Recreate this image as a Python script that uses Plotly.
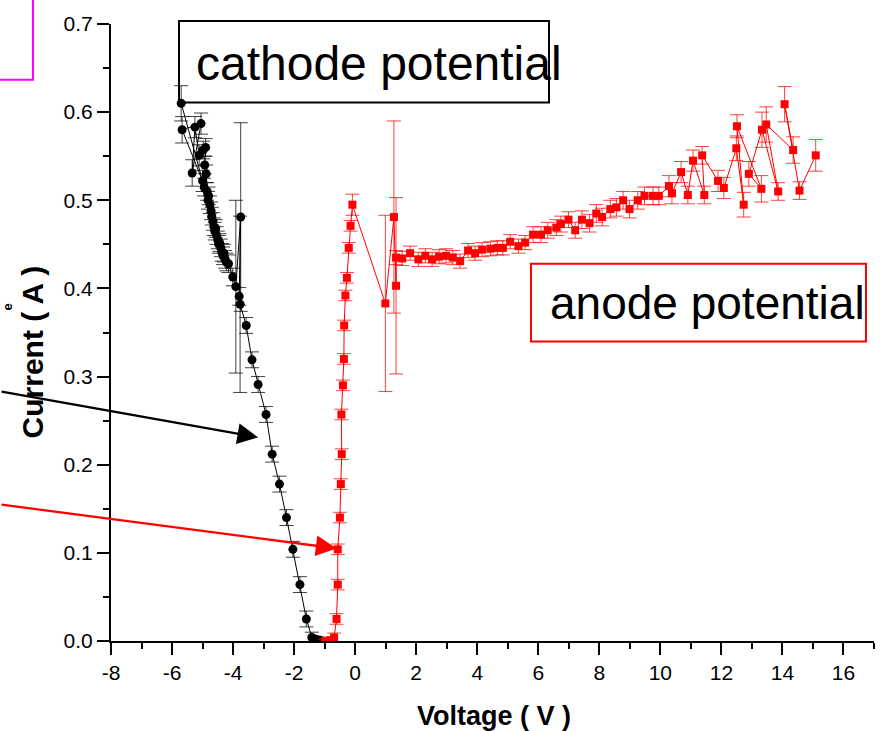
import plotly.graph_objects as go

# ---- data ----
cath_x = [-5.70, -5.00, -5.67, -5.05, -5.34, -5.25, -5.11, -4.98, -4.90, -4.93, -4.95, -4.88,
          -4.85, -4.82, -4.80, -4.76, -4.72, -4.70, -4.66, -4.63, -4.60, -4.57, -4.54, -4.50,
          -4.47, -4.44, -4.40, -4.37, -4.33, -4.30, -4.26, -4.22, -4.15, -4.01, -3.91, -3.75,
          -3.80, -3.77, -3.57, -3.38, -3.18, -2.92, -2.72, -2.48, -2.25, -2.04, -1.81, -1.60,
          -1.42, -1.30, -1.18, -1.05]
cath_y = [0.610, 0.522, 0.580, 0.587, 0.531, 0.583, 0.551, 0.557, 0.560, 0.540, 0.515, 0.530,
          0.510, 0.500, 0.505, 0.495, 0.488, 0.482, 0.476, 0.470, 0.465, 0.468, 0.460, 0.455,
          0.450, 0.452, 0.446, 0.441, 0.437, 0.440, 0.433, 0.430, 0.428, 0.413, 0.402, 0.481,
          0.391, 0.382, 0.358, 0.319, 0.291, 0.257, 0.212, 0.178, 0.140, 0.104, 0.064, 0.025,
          0.004, 0.002, 0.001, 0.000]
cath_err = [0.020, 0.012, 0.015, 0.012, 0.015, 0.012, 0.012, 0.010, 0.010, 0.010, 0.010, 0.010,
            0.010, 0.010, 0.010, 0.010, 0.010, 0.010, 0.010, 0.010, 0.010, 0.010, 0.010, 0.010,
            0.010, 0.010, 0.010, 0.010, 0.010, 0.010, 0.010, 0.010, 0.010, 0.010, 0.098, 0.107,
            0.010, 0.100, 0.009, 0.009, 0.009, 0.009, 0.009, 0.009, 0.009, 0.009, 0.009, 0.009,
            0.006, 0.003, 0.002, 0.001]

anode_x = [-0.98, -0.82, -0.69, -0.61, -0.57, -0.57, -0.50, -0.47, -0.44, -0.45, -0.40, -0.37,
           -0.36, -0.32, -0.27, -0.21, -0.15, -0.09, 0.99, 1.27, 1.34, 1.34, 1.54, 1.80,
           2.07, 2.30, 2.52, 2.75, 2.98, 3.20, 3.44, 3.70, 3.93, 4.16, 4.43, 4.66,
           4.84, 5.08, 5.35, 5.57, 5.83, 6.09, 6.31, 6.59, 6.74, 6.99, 7.21, 7.43,
           7.68, 7.90, 8.09, 8.36, 8.56, 8.78, 8.99, 9.26, 9.48, 9.76, 9.95, 10.28,
           10.38, 10.68, 10.90, 11.07, 11.44, 11.37, 11.89, 12.08, 12.49, 12.73, 12.51, 13.31,
           12.90, 13.33, 13.86, 13.47, 14.35, 14.07, 14.56, 15.09]
anode_y = [0.000, 0.001, 0.004, 0.025, 0.064, 0.104, 0.140, 0.178, 0.212, 0.257, 0.290, 0.320,
           0.358, 0.392, 0.412, 0.446, 0.471, 0.495, 0.383, 0.481, 0.403, 0.435, 0.434, 0.440,
           0.433, 0.437, 0.433, 0.436, 0.437, 0.435, 0.431, 0.443, 0.440, 0.444, 0.445, 0.446,
           0.446, 0.453, 0.448, 0.452, 0.461, 0.461, 0.466, 0.469, 0.473, 0.478, 0.466, 0.478,
           0.474, 0.485, 0.481, 0.490, 0.492, 0.500, 0.490, 0.500, 0.505, 0.505, 0.505, 0.516,
           0.508, 0.532, 0.506, 0.545, 0.506, 0.551, 0.522, 0.514, 0.559, 0.495, 0.584, 0.513,
           0.530, 0.580, 0.510, 0.586, 0.557, 0.609, 0.511, 0.551]
anode_err = [0.002, 0.003, 0.005, 0.006, 0.006, 0.006, 0.006, 0.006, 0.006, 0.006, 0.006, 0.006,
             0.006, 0.006, 0.006, 0.006, 0.006, 0.012, 0.100, 0.109, 0.100, 0.008, 0.008, 0.008,
             0.008, 0.008, 0.008, 0.008, 0.008, 0.008, 0.008, 0.008, 0.008, 0.008, 0.008, 0.008,
             0.008, 0.008, 0.008, 0.008, 0.009, 0.009, 0.009, 0.009, 0.009, 0.009, 0.009, 0.010,
             0.010, 0.010, 0.010, 0.010, 0.010, 0.010, 0.010, 0.010, 0.010, 0.010, 0.010, 0.012,
             0.012, 0.012, 0.010, 0.012, 0.010, 0.010, 0.012, 0.012, 0.014, 0.014, 0.013, 0.015,
             0.014, 0.020, 0.010, 0.020, 0.015, 0.020, 0.010, 0.018]

x_ticks = [-8, -6, -4, -2, 0, 2, 4, 6, 8, 10, 12, 14, 16]
y_ticks = [0.0, 0.1, 0.2, 0.3, 0.4, 0.5, 0.6, 0.7]

FONT = "Arial, Liberation Sans, sans-serif"

# plot area in pixels (for placing layout decorations)
L, R, T, B = 111, 874, 21, 641
W, H = 886, 731


def px(xp):
    return (xp - L) / (R - L)


def py(yp):
    return (B - yp) / (B - T)


fig = go.Figure()
fig.add_trace(go.Scatter(
    x=cath_x, y=cath_y, mode="lines+markers",
    line=dict(color="black", width=1),
    marker=dict(symbol="circle", size=9, color="black"),
    error_y=dict(type="data", array=cath_err, color="rgba(0,0,0,0.75)", thickness=1, width=7),
    showlegend=False))
fig.add_trace(go.Scatter(
    x=anode_x, y=anode_y, mode="lines+markers",
    line=dict(color="#ff0000", width=1),
    marker=dict(symbol="square", size=8, color="#ff0000"),
    error_y=dict(type="data", array=anode_err, color="rgba(255,0,0,0.75)", thickness=1, width=7),
    showlegend=False))

fig.update_xaxes(
    range=[-8, 17], tickmode="array", tickvals=x_ticks, ticktext=[str(v) for v in x_ticks],
    showline=True, linecolor="black", linewidth=2, ticks="outside", ticklen=12, tickwidth=2,
    tickcolor="black", showgrid=False, zeroline=False,
    minor=dict(dtick=1, tick0=-8, ticks="outside", ticklen=6, tickwidth=2, tickcolor="black", showgrid=False),
    tickfont=dict(family=FONT, size=21, color="black"))
fig.update_yaxes(
    range=[0, 0.7], tickmode="array", tickvals=y_ticks, ticktext=[f"{v:.1f}" for v in y_ticks],
    showline=True, linecolor="black", linewidth=2, ticks="outside", ticklen=12, tickwidth=2,
    tickcolor="black", showgrid=False, zeroline=False,
    minor=dict(dtick=0.05, tick0=0, ticks="outside", ticklen=6, tickwidth=2, tickcolor="black", showgrid=False),
    tickfont=dict(family=FONT, size=21, color="black"))

shapes = [
    dict(type="rect", xref="paper", yref="paper", x0=px(179), x1=px(549), y0=py(100), y1=py(18),
         line=dict(color="black", width=2), fillcolor="rgba(0,0,0,0)"),
    dict(type="rect", xref="paper", yref="paper", x0=px(531), x1=px(866), y0=py(340), y1=py(262),
         line=dict(color="#ff0000", width=2), fillcolor="rgba(0,0,0,0)"),
    dict(type="rect", xref="paper", yref="paper", x0=px(-20), x1=px(33), y0=py(77), y1=py(-20),
         line=dict(color="#ff00ff", width=2), fillcolor="rgba(0,0,0,0)"),
]

annotations = [
    dict(text="cathode potential", xref="paper", yref="paper", x=px(194), y=py(61),
         xanchor="left", yanchor="middle", showarrow=False,
         font=dict(family=FONT, size=48, color="black")),
    dict(text="anode potential", xref="paper", yref="paper", x=px(548), y=py(301),
         xanchor="left", yanchor="middle", showarrow=False,
         font=dict(family=FONT, size=46, color="black")),
    dict(text="<b>Voltage ( V )</b>", xref="paper", yref="paper", x=px(494), y=py(716),
         xanchor="center", yanchor="middle", showarrow=False,
         font=dict(family=FONT, size=27, color="black")),
    dict(text="<b>Current ( A )</b>", xref="paper", yref="paper", x=px(32), y=py(351),
         xanchor="center", yanchor="middle", showarrow=False, textangle=-90,
         font=dict(family=FONT, size=30, color="black")),
    dict(text="<b>e</b>", xref="paper", yref="paper", x=px(8), y=py(306),
         xanchor="center", yanchor="middle", showarrow=False, textangle=-90,
         font=dict(family=FONT, size=13, color="black")),
    dict(text="", x=-3.18, y=0.231, xref="x", yref="y", ax=-258, ay=-46,
         showarrow=True, arrowhead=2, arrowsize=1.8, arrowwidth=2.3, arrowcolor="black"),
    dict(text="", x=-0.61, y=0.105, xref="x", yref="y", ax=-337, ay=-44,
         showarrow=True, arrowhead=2, arrowsize=1.8, arrowwidth=2.3, arrowcolor="#ff0000"),
]

fig.update_layout(
    width=W, height=H, margin=dict(l=L, r=W - R, t=T, b=H - B),
    paper_bgcolor="white", plot_bgcolor="white",
    shapes=shapes, annotations=annotations, showlegend=False,
    font=dict(family=FONT, color="black"))

fig.write_html("out.html")
